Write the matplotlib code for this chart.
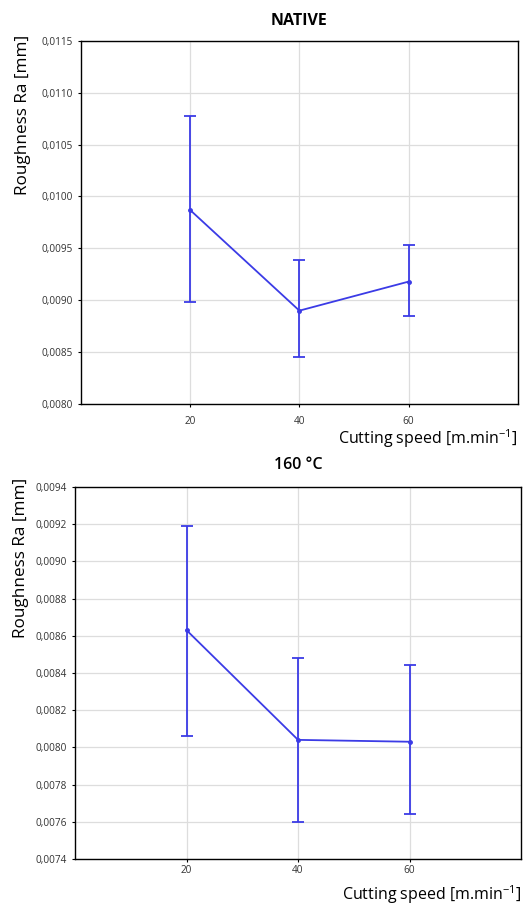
import matplotlib
matplotlib.use('Agg')
import matplotlib.pyplot as plt
from matplotlib.ticker import FuncFormatter, MultipleLocator

speed = [20, 40, 60]

# NATIVE
native_mean  = [0.00987, 0.00890, 0.00918]
native_upper = [0.01078, 0.00939, 0.00953]
native_lower = [0.00898, 0.00845, 0.00885]

# 160 °C
heat_mean  = [0.00863, 0.00804, 0.00803]
heat_upper = [0.00919, 0.00848, 0.00844]
heat_lower = [0.00806, 0.00760, 0.00764]

plt.rcParams['font.family'] = ['Open Sans', 'DejaVu Sans']

blue = '#3b3be6'
comma = FuncFormatter(lambda v, p: ('%.4f' % v).replace('.', ','))


def panel(ax, mean, lower, upper, title, weight, ylim, step, tpad, ylab_xy, tickpad, xpad):
    err = [[m - l for m, l in zip(mean, lower)], [u - m for m, u in zip(mean, upper)]]
    ax.errorbar(speed, mean, yerr=err, color=blue, lw=1.3, marker='o', ms=2.5,
                capsize=4, capthick=1.3, elinewidth=1.3)
    ax.set_xlim(0, 80)
    ax.set_ylim(*ylim)
    ax.set_xticks(speed)
    ax.yaxis.set_major_locator(MultipleLocator(step))
    ax.yaxis.set_major_formatter(comma)
    ax.grid(color='#dddddd', lw=0.9)
    ax.set_axisbelow(True)
    ax.tick_params(labelsize=7.2, labelcolor='#333333', length=2.5)
    ax.tick_params(axis='x', pad=tickpad)
    for s in ax.spines.values():
        s.set_linewidth(1.0)
    ax.set_title(title, fontsize=11.5, fontweight=weight, pad=tpad)
    ax.set_ylabel('Roughness Ra [mm]', fontsize=12.3, loc='top')
    ax.yaxis.set_label_coords(*ylab_xy)
    ax.set_xlabel('Cutting speed [m.min$^{\\mathregular{-1}}$]', fontsize=11.5,
                  loc='right', labelpad=xpad)


fig = plt.figure(figsize=(5.28, 9.06), dpi=100)
ax1 = fig.add_axes([0.153, 0.554, 0.828, 0.401])
ax2 = fig.add_axes([0.142, 0.052, 0.845, 0.4105])

panel(ax1, native_mean, native_lower, native_upper, 'NATIVE', 'bold',
      (0.0080, 0.0115), 0.0005, 11, (-0.114, 1.017), 6, 0)
panel(ax2, heat_mean, heat_lower, heat_upper, '160 °C', 'semibold',
      (0.0074, 0.0094), 0.0002, 13, (-0.103, 1.024), 2, 5)

fig.savefig('out.png', dpi=100)
